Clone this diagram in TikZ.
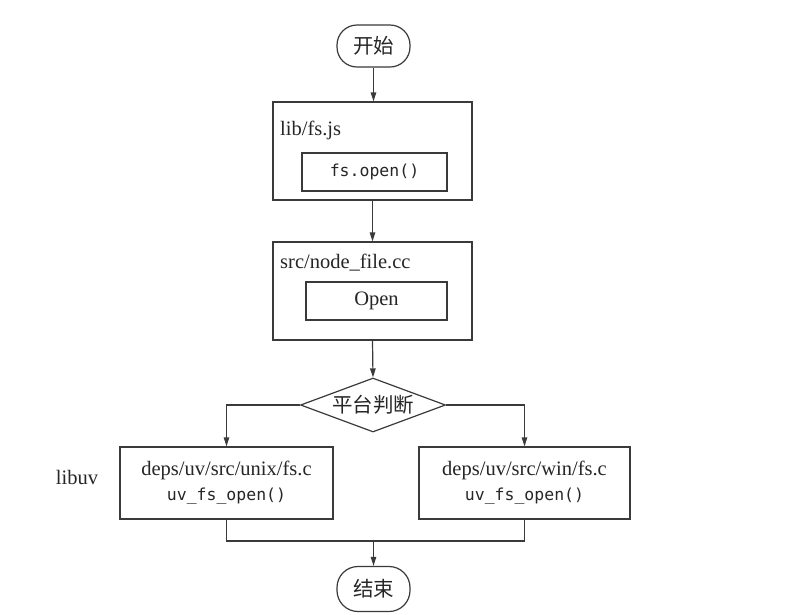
\documentclass[tikz,border=0pt]{standalone}
\usepackage{fontspec}
\setmainfont{Liberation Serif}
\setmonofont{DejaVu Sans Mono}
\newfontfamily\cjk{Noto Sans CJK SC}
\usetikzlibrary{shapes.geometric,arrows.meta}
\definecolor{ink}{HTML}{3A3A3A}
\begin{document}
\begin{tikzpicture}[x=1pt,y=-1pt,
  every node/.style={text=black!85, font=\fontsize{20.5}{27}\selectfont},
  box/.style={draw=ink, line width=1.2pt, rectangle, inner sep=0pt},
  term/.style={draw=ink, line width=1.2pt, rectangle, rounded corners=20pt, inner sep=0pt},
  decision/.style={draw=ink, line width=1.2pt, diamond, inner sep=0pt, shape aspect=2.685, minimum width=145pt, minimum height=54pt},
  code/.style={font=\fontsize{16.5}{20}\ttfamily},
  conn/.style={draw=ink, line width=1.2pt},
  arr/.style={conn, -{Triangle[length=9pt,width=5.5pt]}},
  lbl/.style={anchor=west, inner sep=0pt}
]
\useasboundingbox[fill=white] (0,0) rectangle (812,614);

\node[term, minimum width=73pt, minimum height=42pt] (start) at (373.5,46) {\cjk 开始};

\node[box, minimum width=199pt, minimum height=98pt] (b1) at (372.5,151) {};
\node[lbl] (b1t) at (280,130) {lib/fs.js};
\node[box, minimum width=145pt, minimum height=38pt, code] (b1i) at (374.5,172) {fs.open()};

\node[box, minimum width=199pt, minimum height=98pt] (b2) at (372.5,291) {};
\node[lbl] (b2t) at (280,263) {src/node\_file.cc};
\node[box, minimum width=141pt, minimum height=38pt] (b2i) at (376.5,301) {Open};

\node[decision] (dec) at (373,405) {\cjk 平台判断};

\node[box, minimum width=213pt, minimum height=72pt, align=center] (left) at (226.5,483)
  {deps/uv/src/unix/fs.c\\[-2pt]{\fontsize{16.5}{20}\ttfamily uv\_fs\_open()}};
\node[box, minimum width=211pt, minimum height=72pt, align=center] (right) at (524.5,483)
  {deps/uv/src/win/fs.c\\[-2pt]{\fontsize{16.5}{20}\ttfamily uv\_fs\_open()}};
\node (libuv) at (77,477) {libuv};

\node[term, minimum width=73pt, minimum height=45pt, rounded corners=21pt] (end) at (373.5,589) {\cjk 结束};

\coordinate (join) at (373.5,541);

\draw[arr] (start.south) -- (b1.north -| start.south);
\draw[arr] (b1.south) -- (b2.north);
\draw[arr] (b2.south) -- (dec.north);
\draw[arr] (dec.west) -| (left.north);
\draw[arr] (dec.east) -| (right.north);
\draw[conn] (left.south) |- (join) -| (right.south);
\draw[arr] (join) -- (end.north);
\end{tikzpicture}
\end{document}
